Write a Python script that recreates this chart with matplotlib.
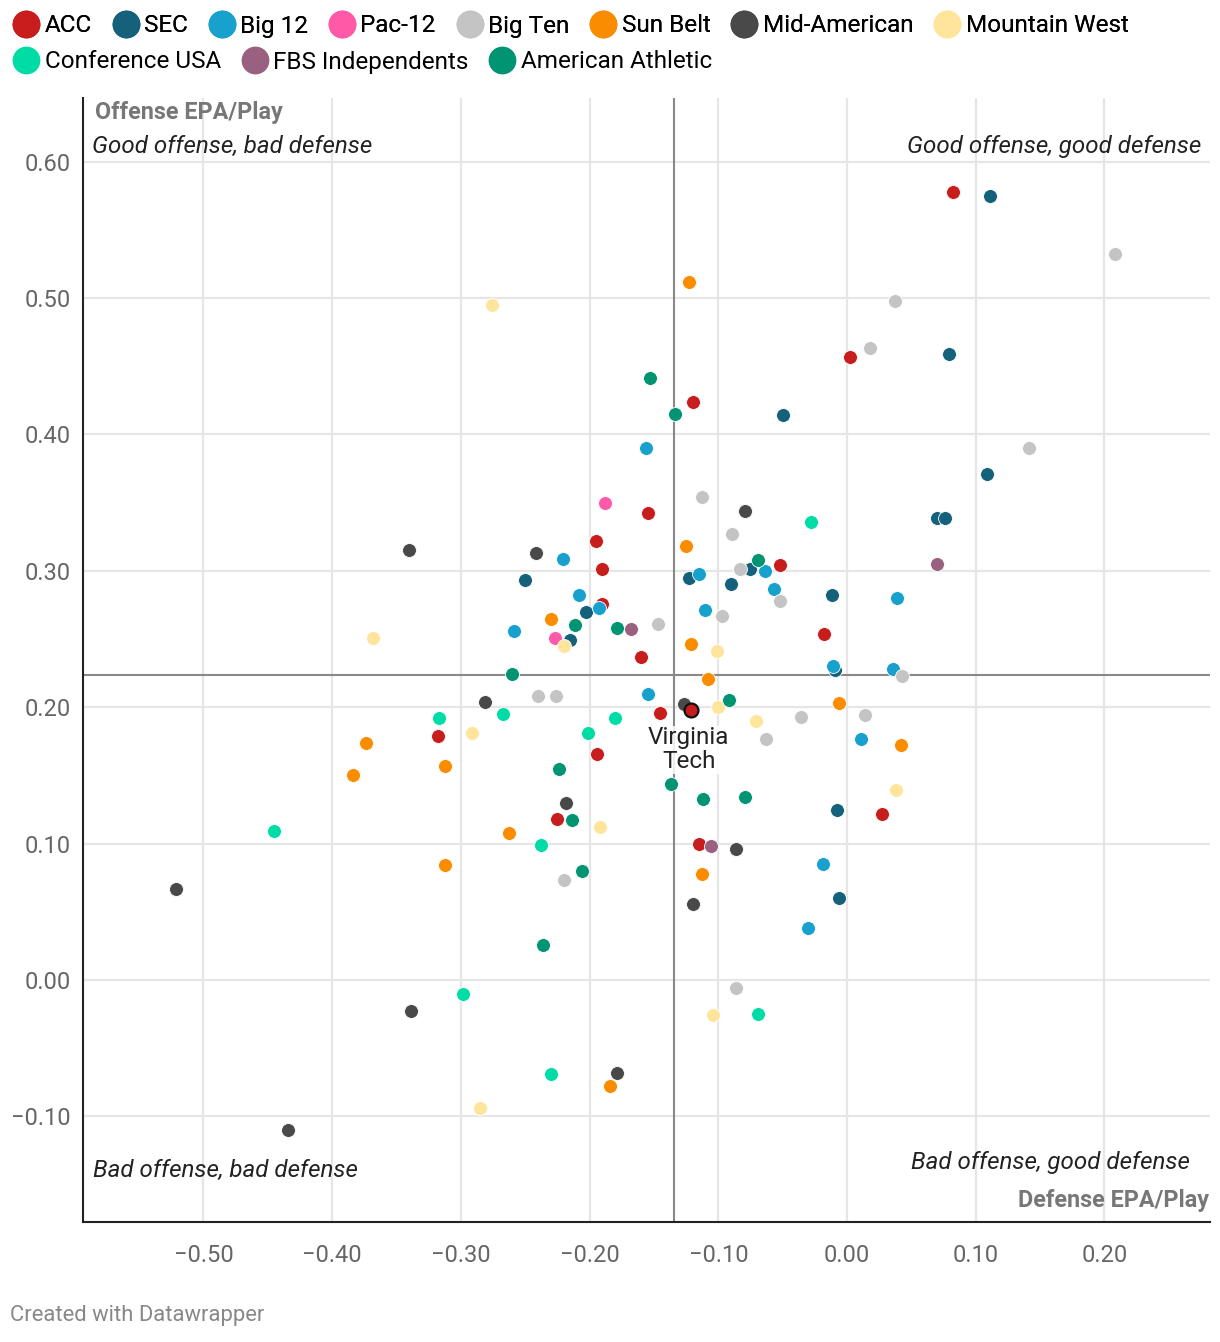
import matplotlib.pyplot as plt
from matplotlib.lines import Line2D

plt.rcParams['font.family'] = ['Roboto', 'DejaVu Sans']

# conference order and colours (legend order)
conferences = ['ACC', 'SEC', 'Big 12', 'Pac-12', 'Big Ten', 'Sun Belt', 'Mid-American',
               'Mountain West', 'Conference USA', 'FBS Independents', 'American Athletic']
colors = ['#c71e1d', '#15607a', '#18a1cd', '#ff5aa8', '#c4c4c4', '#fa8c00', '#494949',
          '#ffe59c', '#00dca6', '#9a607f', '#009473']

# defense EPA/play (x) and offense EPA/play (y)
acc_x = [0.082, 0.002, -0.120, -0.155, -0.195, -0.190, -0.190, -0.052, -0.018, -0.160, -0.145, -0.318, -0.194, -0.225, -0.115, 0.027]
acc_y = [0.578, 0.457, 0.424, 0.342, 0.322, 0.301, 0.276, 0.304, 0.254, 0.237, 0.196, 0.179, 0.166, 0.118, 0.100, 0.122]
sec_x = [0.111, 0.079, -0.050, 0.109, 0.070, 0.076, -0.250, -0.123, -0.075, -0.090, -0.203, -0.215, -0.012, -0.009, -0.008, -0.006]
sec_y = [0.575, 0.459, 0.414, 0.371, 0.339, 0.339, 0.293, 0.295, 0.301, 0.290, 0.270, 0.249, 0.282, 0.227, 0.125, 0.060]
big12_x = [-0.156, -0.221, -0.115, -0.064, -0.057, -0.208, -0.193, -0.110, -0.259, 0.039, -0.011, 0.036, -0.155, 0.011, -0.019, -0.030]
big12_y = [0.390, 0.309, 0.298, 0.300, 0.287, 0.282, 0.273, 0.271, 0.256, 0.280, 0.230, 0.228, 0.210, 0.177, 0.085, 0.038]
pac12_x = [-0.188, -0.227]
pac12_y = [0.350, 0.251]
bigten_x = [0.208, 0.037, 0.018, 0.141, -0.113, -0.089, -0.083, -0.052, -0.097, -0.147, -0.240, -0.226, 0.043, -0.036, 0.014, -0.063, -0.220, -0.086]
bigten_y = [0.532, 0.498, 0.463, 0.390, 0.354, 0.327, 0.301, 0.278, 0.267, 0.261, 0.208, 0.208, 0.223, 0.193, 0.194, 0.177, 0.073, -0.006]
sunbelt_x = [-0.123, -0.125, -0.230, -0.121, -0.108, -0.006, 0.042, -0.374, -0.384, -0.312, -0.263, -0.312, -0.113, -0.184]
sunbelt_y = [0.512, 0.318, 0.265, 0.246, 0.221, 0.203, 0.172, 0.174, 0.150, 0.157, 0.108, 0.084, 0.078, -0.078]
mac_x = [-0.340, -0.242, -0.079, -0.281, -0.127, -0.218, -0.086, -0.120, -0.521, -0.339, -0.179, -0.434]
mac_y = [0.315, 0.313, 0.344, 0.204, 0.202, 0.130, 0.096, 0.056, 0.067, -0.023, -0.068, -0.110]
mwc_x = [-0.276, -0.368, -0.220, -0.101, -0.291, -0.100, -0.071, 0.038, -0.192, -0.104, -0.285]
mwc_y = [0.495, 0.251, 0.245, 0.241, 0.181, 0.200, 0.190, 0.139, 0.112, -0.026, -0.094]
cusa_x = [-0.028, -0.317, -0.267, -0.180, -0.201, -0.445, -0.238, -0.298, -0.069, -0.230]
cusa_y = [0.336, 0.192, 0.195, 0.192, 0.181, 0.109, 0.099, -0.010, -0.025, -0.069]
ind_x = [0.070, -0.168, -0.106]
ind_y = [0.305, 0.257, 0.098]
aac_x = [-0.153, -0.134, -0.069, -0.211, -0.179, -0.260, -0.092, -0.224, -0.214, -0.137, -0.112, -0.079, -0.206, -0.236]
aac_y = [0.441, 0.415, 0.308, 0.260, 0.258, 0.224, 0.205, 0.155, 0.117, 0.144, 0.133, 0.134, 0.080, 0.026]

all_x = [acc_x, sec_x, big12_x, pac12_x, bigten_x, sunbelt_x, mac_x, mwc_x, cusa_x, ind_x, aac_x]
all_y = [acc_y, sec_y, big12_y, pac12_y, bigten_y, sunbelt_y, mac_y, mwc_y, cusa_y, ind_y, aac_y]

vt_x, vt_y = -0.121, 0.198
avg_def, avg_off = -0.1345, 0.2235

x_ticks = [-0.5, -0.4, -0.3, -0.2, -0.1, 0.0, 0.1, 0.2]
x_labels = ['\u22120.50', '\u22120.40', '\u22120.30', '\u22120.20', '\u22120.10', '0.00', '0.10', '0.20']
y_ticks = [-0.1, 0.0, 0.1, 0.2, 0.3, 0.4, 0.5, 0.6]
y_labels = ['\u22120.10', '0.00', '0.10', '0.20', '0.30', '0.40', '0.50', '0.60']

W, H = 1220, 1342
fig = plt.figure(figsize=(W / 100, H / 100), dpi=100)
ax = fig.add_axes([83 / W, 1 - 1222 / H, (1210 - 83) / W, (1222 - 98) / H])

def fx(px):
    return px / W

def fy(py):
    return 1 - py / H

ax.set_xlim(-0.5936, 0.2820)
ax.set_ylim(-0.1774, 0.6466)

for xv in x_ticks:
    ax.axvline(xv, color='#e6e6e6', lw=1.6, zorder=0)
for yv in y_ticks:
    ax.axhline(yv, color='#e6e6e6', lw=1.6, zorder=0)

ax.axvline(avg_def, color='#888888', lw=1.5, zorder=1)
ax.axhline(avg_off, color='#888888', lw=1.5, zorder=1)

for xs, ys, c in zip(all_x, all_y, colors):
    ax.scatter(xs, ys, s=100, color=c, edgecolors='white', linewidths=0.6, zorder=3)

ax.scatter([vt_x], [vt_y], s=100, color=colors[0], edgecolors='#111111', linewidths=1.6, zorder=4)
ax.text(vt_x - 0.002, vt_y - 0.012, 'Virginia\nTech', ha='center', va='top', fontsize=17.5,
        color='#222222', linespacing=1.05, zorder=5,
        bbox=dict(facecolor='white', edgecolor='none', pad=0.5, alpha=0.85))

ax.set_xticks(x_ticks)
ax.set_xticklabels(x_labels)
ax.set_yticks(y_ticks)
ax.set_yticklabels(y_labels)
ax.tick_params(length=0, labelsize=17, labelcolor='#666666')
ax.tick_params(axis='x', pad=16)
ax.tick_params(axis='y', pad=9)

for s in ['top', 'right']:
    ax.spines[s].set_visible(False)
for s in ['left', 'bottom']:
    ax.spines[s].set_color('#222222')
    ax.spines[s].set_linewidth(1.5)

# axis titles and quadrant notes
fig.text(fx(95), fy(112), 'Offense EPA/Play', fontsize=16.8, fontweight='bold', color='#777777', va='center')
fig.text(fx(1209), fy(1200), 'Defense EPA/Play', fontsize=16.8, fontweight='bold', color='#777777', va='center', ha='right')
fig.text(fx(92), fy(146), 'Good offense, bad defense', fontsize=17.4, style='italic', color='#222222', va='center')
fig.text(fx(1201), fy(146), 'Good offense, good defense', fontsize=17.4, style='italic', color='#222222', va='center', ha='right')
fig.text(fx(93), fy(1170), 'Bad offense, bad defense', fontsize=17.4, style='italic', color='#222222', va='center')
fig.text(fx(1190), fy(1163), 'Bad offense, good defense', fontsize=17.4, style='italic', color='#222222', va='center', ha='right')
fig.text(fx(10), fy(1316), 'Created with Datawrapper', fontsize=15.8, color='#888888', va='center')

# legend in two rows
handles = [Line2D([], [], marker='o', linestyle='', markersize=19, markerfacecolor=c,
                  markeredgecolor=c) for c in colors]
leg1 = fig.legend(handles[:8], conferences[:8], ncol=8, loc='center left',
                  bbox_to_anchor=(fx(2), fy(26)), frameon=False, fontsize=17.5,
                  handletextpad=0.15, columnspacing=0.8, handlelength=1.2, borderaxespad=0)
leg2 = fig.legend(handles[8:], conferences[8:], ncol=3, loc='center left',
                  bbox_to_anchor=(fx(2), fy(62)), frameon=False, fontsize=17.5,
                  handletextpad=0.15, columnspacing=0.8, handlelength=1.2, borderaxespad=0)
fig.add_artist(leg1)

fig.savefig('out.png', dpi=100, facecolor='white')
